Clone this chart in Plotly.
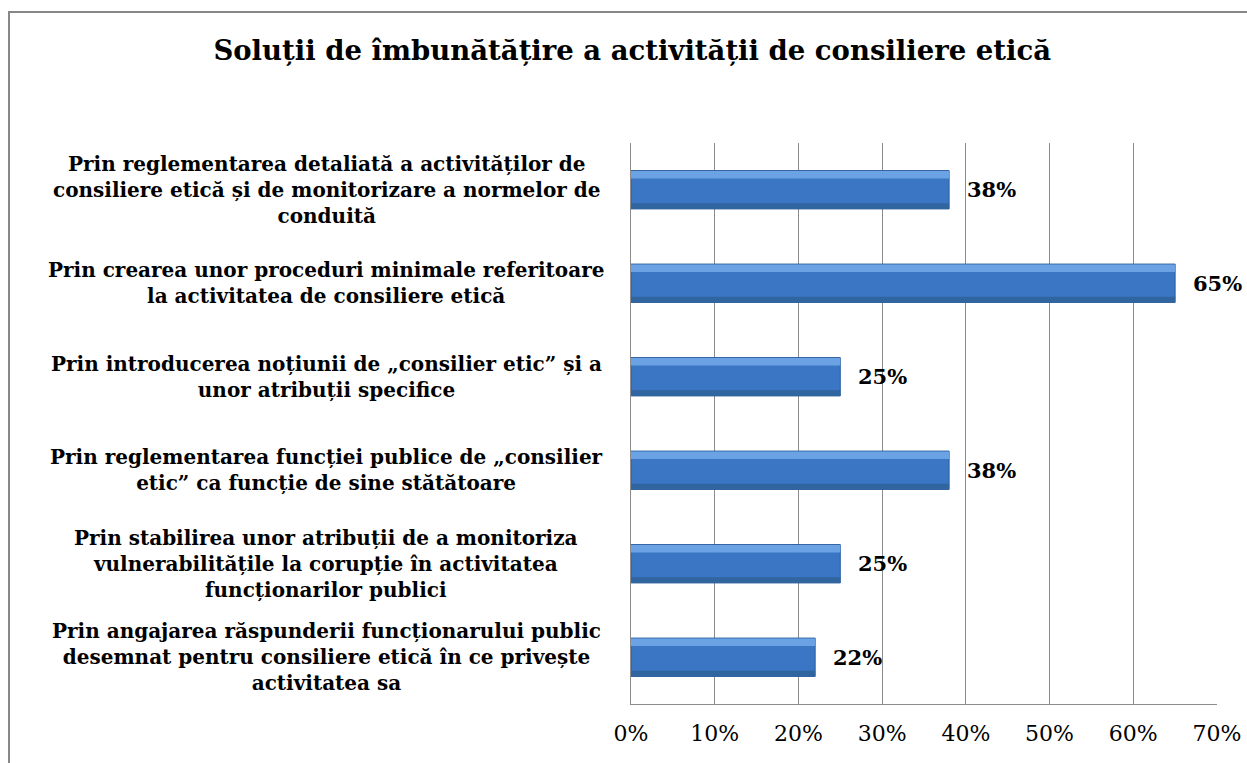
import plotly.graph_objects as go

categories = [
    "Prin reglementarea detaliată a activităților de<br>consiliere etică și de monitorizare a normelor de<br>conduită",
    "Prin crearea unor proceduri minimale referitoare<br>la activitatea de consiliere etică",
    "Prin introducerea noțiunii de „consilier etic” și a<br>unor atribuții specifice",
    "Prin reglementarea funcției publice de „consilier<br>etic” ca funcție de sine stătătoare",
    "Prin stabilirea unor atribuții de a monitoriza<br>vulnerabilitățile la corupție în activitatea<br>funcționarilor publici",
    "Prin angajarea răspunderii funcționarului public<br>desemnat pentru consiliere etică în ce privește<br>activitatea sa",
]
values = [38, 65, 25, 38, 25, 22]
value_labels = ["38%", "65%", "25%", "38%", "25%", "22%"]
tick_vals = [0, 10, 20, 30, 40, 50, 60, 70]
tick_text = ["0%", "10%", "20%", "30%", "40%", "50%", "60%", "70%"]
title_text = "Soluții de îmbunătățire a activității de consiliere etică"

ids = list(range(len(categories)))
FONT = "DejaVu Serif, Liberation Serif, serif"

fig = go.Figure()
fig.add_trace(go.Bar(
    y=ids, x=values, orientation="h", width=0.41,
    marker=dict(color="#3A76C3", line=dict(color="#2D5E9E", width=1)),
    hoverinfo="skip", showlegend=False,
))
# soft top highlight and bottom shade to suggest the gradient
fig.add_trace(go.Bar(
    y=ids, x=values, orientation="h", width=0.08, offset=-0.2,
    marker=dict(color="#6AA2E4", line=dict(width=0)),
    hoverinfo="skip", showlegend=False,
))
fig.add_trace(go.Bar(
    y=ids, x=values, orientation="h", width=0.06, offset=0.145,
    marker=dict(color="#30659F", line=dict(width=0)),
    hoverinfo="skip", showlegend=False,
))
fig.update_layout(barmode="overlay")

for i, (v, lab) in enumerate(zip(values, value_labels)):
    fig.add_annotation(x=v, y=i, xref="x", yref="y", text="<b>" + lab + "</b>",
                       showarrow=False, xanchor="left", xshift=16,
                       font=dict(family=FONT, size=21, color="#000"))

for i, cat in enumerate(categories):
    fig.add_annotation(x=-0.52, y=i, xref="paper", yref="y", text="<b>" + cat + "</b>",
                       showarrow=False, xanchor="center", align="center",
                       font=dict(family=FONT, size=20, color="#000"))

fig.add_shape(type="rect", xref="paper", yref="paper",
              x0=-1.0614, x1=1.2, y0=-0.3, y1=1.2335,
              line=dict(color="#878787", width=2), layer="below")

fig.update_layout(
    width=1247, height=763,
    margin=dict(l=631, r=30, t=143, b=59, autoexpand=False),
    paper_bgcolor="white", plot_bgcolor="white",
    title=dict(text="<b>" + title_text + "</b>", x=0.507, xref="container",
               xanchor="center", y=0.934, yref="container", yanchor="middle",
               font=dict(family=FONT, size=27.5, color="#000")),
    xaxis=dict(range=[0, 70], tickvals=tick_vals, ticktext=tick_text,
               showgrid=True, gridcolor="#8C8C8C", gridwidth=1,
               showline=True, linecolor="#8C8C8C", linewidth=1, mirror=False,
               zeroline=False, ticks="", ticklabelstandoff=10, automargin=False,
               tickfont=dict(family=FONT, size=22, color="#000"), fixedrange=True),
    yaxis=dict(range=[5.5, -0.5], showticklabels=False, showgrid=False,
               showline=True, linecolor="#8C8C8C", linewidth=1, automargin=False,
               zeroline=False, ticks="", fixedrange=True),
)

fig.write_html("out.html", config={"displayModeBar": False},
               post_script="document.body.style.margin='0px';")
